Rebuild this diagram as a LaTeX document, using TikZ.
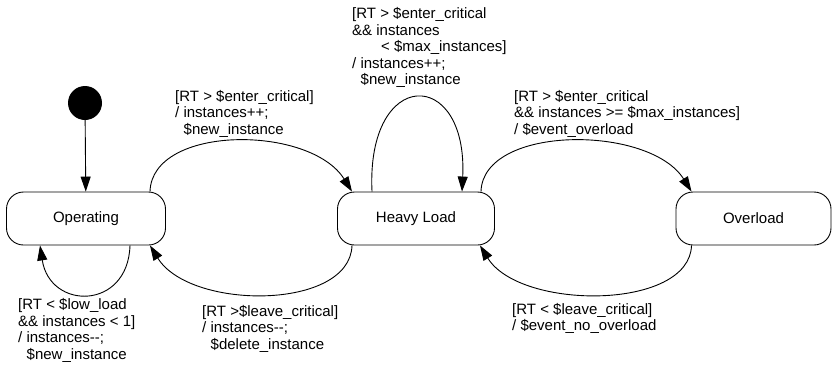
\documentclass[tikz,border=0pt]{standalone}
\usepackage{fontspec}
\setmainfont{Liberation Sans}
\usetikzlibrary{arrows.meta}
\newcommand\dm{-\kern0pt-}
\begin{document}
\begin{tikzpicture}[x=1pt,y=-1pt,
 state/.style={draw,line width=0.9pt,rounded corners=17pt,minimum height=53pt,inner sep=0pt,font=\fontsize{15}{16.6}\selectfont},
 lab/.style={anchor=base west,align=left,inner sep=0pt,font=\fontsize{15}{16.6}\selectfont},
 tr/.style={line width=0.9pt,-{Triangle[length=15pt,width=10pt]}}]
\useasboundingbox (0,0) rectangle (832,365);
\node[circle,fill=black,minimum size=34pt,inner sep=0pt] (init) at (85,103) {};
\node[state,minimum width=159pt] (op) at (86,218.5) {Operating};
\node[state,minimum width=157pt] (hl) at (416,218.5) {Heavy Load};
\node[state,minimum width=155pt] (ov) at (753.5,218.5) {Overload};

\draw[tr] (init) -- (op);
\draw[tr] ([xshift=64pt]op.north) .. controls +(2,-67) and +(-42,-67) .. ([xshift=-64pt]hl.north);
\draw[tr] ([xshift=-44pt]hl.north) .. controls +(-6,-125) and +(6,-125) .. ([xshift=46pt]hl.north);
\draw[tr] ([xshift=65pt]hl.north) .. controls +(2,-67) and +(-42,-67) .. ([xshift=-62pt]ov.north);
\draw[tr] ([xshift=-62pt]ov.south) .. controls +(-2,65) and +(40,65) .. ([xshift=64pt]hl.south);
\draw[tr] ([xshift=-64pt]hl.south) .. controls +(-2,65) and +(40,65) .. ([xshift=64pt]op.south);
\draw[tr] ([xshift=44pt]op.south) .. controls +(-2,65) and +(10,65) .. ([xshift=-46pt]op.south);

\node[lab] (l1) at (175,134.2) {[RT > \$enter\_critical]\\/ instances++;\\\hspace*{8.5pt}\$new\_instance};
\node[lab] (l2) at (352,84.9) {[RT > \$enter\_critical\\\&\& instances\\\hspace*{29pt}< \$max\_instances]\\/ instances++;\\\hspace*{8.5pt}\$new\_instance};
\node[lab] (l3) at (514,134.2) {[RT > \$enter\_critical\\\&\& instances >= \$max\_instances]\\/ \$event\_overload};
\node[lab] (l4) at (18,359.3) {[RT < \$low\_load\\\&\& instances < 1]\\/ instances\dm;\\\hspace*{8.5pt}\$new\_instance};
\node[lab] (l5) at (202,349.2) {[RT >\$leave\_critical]\\/ instances\dm;\\\hspace*{8.5pt}\$delete\_instance};
\node[lab] (l6) at (512,330.6) {[RT < \$leave\_critical]\\/ \$event\_no\_overload};
\end{tikzpicture}
\end{document}
